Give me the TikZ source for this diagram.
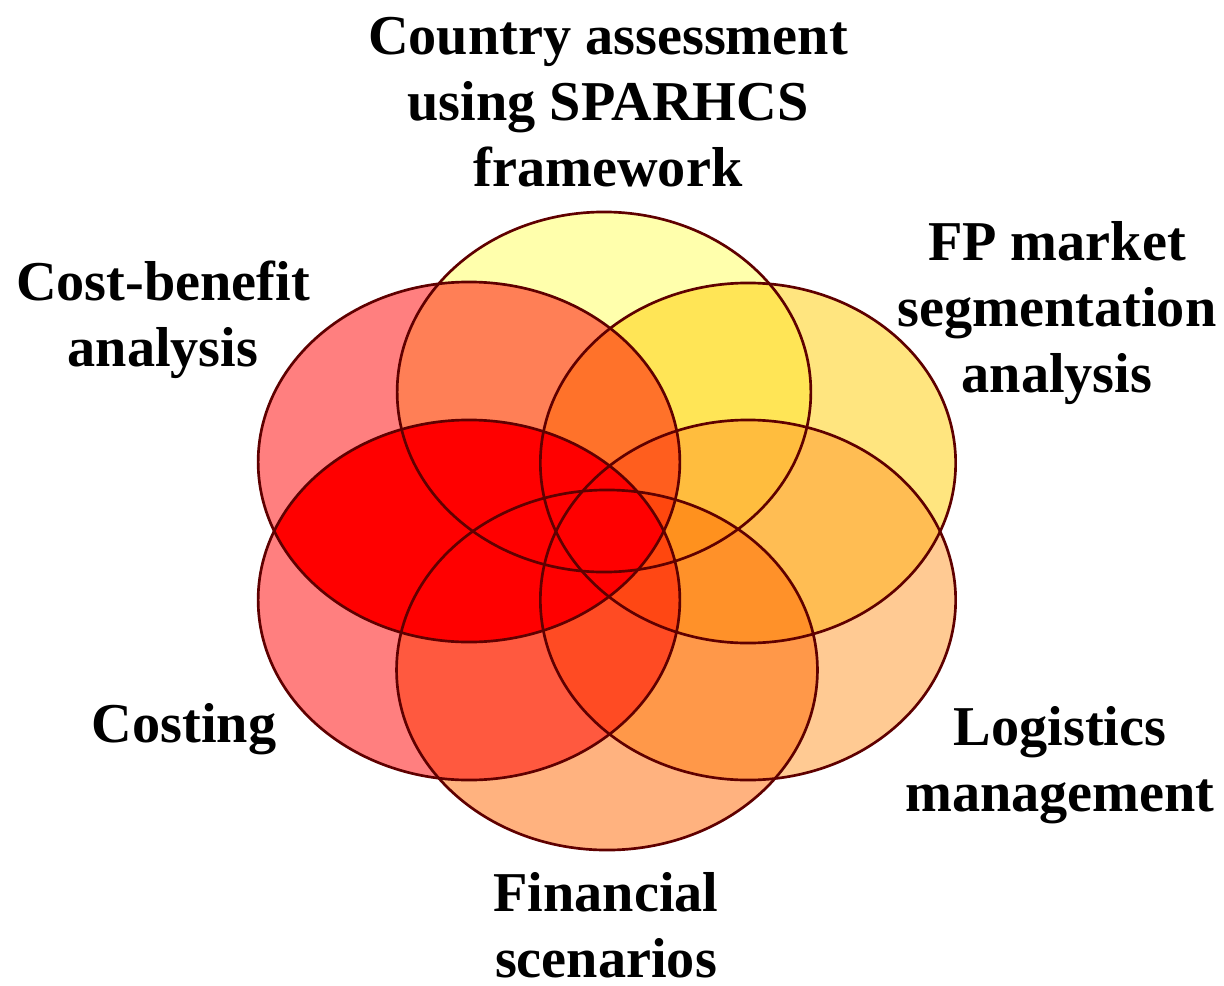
\documentclass[tikz,border=0pt]{standalone}
\usepackage{fontspec}
\setmainfont{Liberation Serif}

\definecolor{rim}{RGB}{95,0,0}
\definecolor{pale}{RGB}{255,255,90}
\definecolor{gold}{RGB}{255,204,0}
\definecolor{tan}{RGB}{255,150,40}
\definecolor{rust}{RGB}{255,102,0}
\definecolor{scarlet}{RGB}{255,0,0}

\begin{document}
\begin{tikzpicture}[x=0.025cm, y=-0.025cm,
	lbl/.style={font=\fontsize{40}{47}\selectfont\bfseries, align=center, inner sep=0pt, anchor=north}]
	\useasboundingbox (0,0) rectangle (1224,986);

	% centres of the six ellipses
	\coordinate (cty) at (604,392);
	\coordinate (fp) at (748,463);
	\coordinate (lg) at (748,600);
	\coordinate (fin) at (607,670);
	\coordinate (cst) at (469,600);
	\coordinate (cb) at (469,462);

	\foreach \c/\r/\col in {cty/5.17/pale, fp/5.19/gold, lg/5.19/tan, fin/5.26/rust, cst/5.27/scarlet, cb/5.27/scarlet}
		\fill[\col, fill opacity=.5] (\c) ellipse [x radius=\r cm, y radius=4.5cm];

	% the two red ones overlap in solid red
	\begin{scope}
		\clip (cb) ellipse [x radius=5.27cm, y radius=4.5cm];
		\fill[scarlet] (cst) ellipse [x radius=5.27cm, y radius=4.5cm];
	\end{scope}

	\foreach \c/\r in {cty/5.17, fp/5.19, lg/5.19, fin/5.26, cst/5.27, cb/5.27}
		\draw[rim, line width=1.9pt] (\c) ellipse [x radius=\r cm, y radius=4.5cm];

	\node[lbl] (tcty) at (608,17) {Country assessment\\using SPARHCS\\framework};
	\node[lbl] (tfp) at (1057,221) {FP market\\segmentation\\analysis};
	\node[lbl] (tcb) at (163,261) {Cost-benefit\\analysis};
	\node[lbl] (tcst) at (184,703) {Costing};
	\node[lbl] (tlg) at (1060,706) {Logistics\\management};
	\node[lbl] (tfin) at (606,872) {Financial\\scenarios};
\end{tikzpicture}
\end{document}
